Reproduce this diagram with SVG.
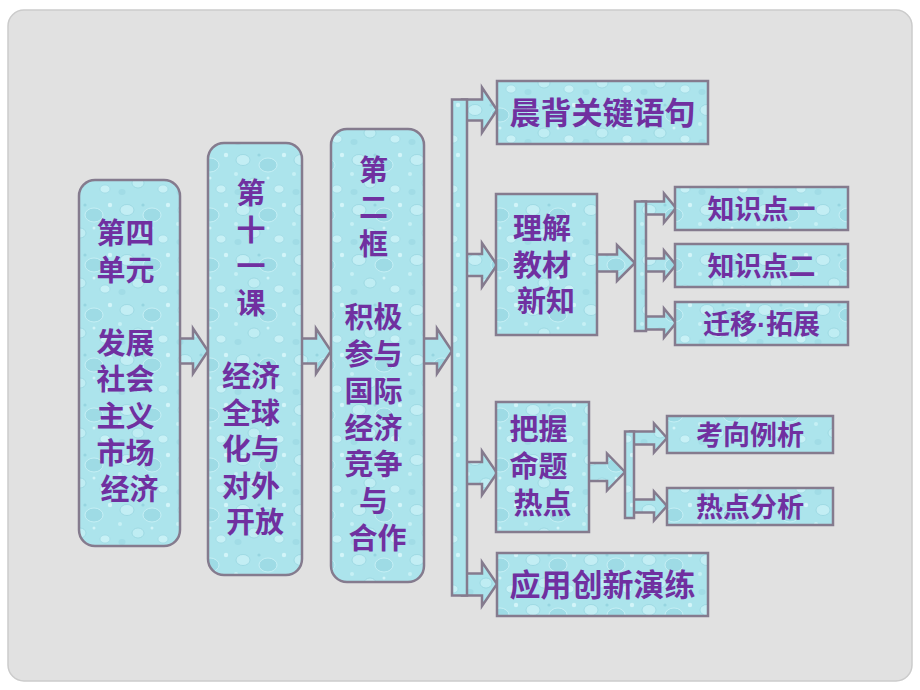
<svg xmlns="http://www.w3.org/2000/svg" width="920" height="690" viewBox="0 0 920 690">
  <defs>
    <pattern id="drops" width="58" height="50" patternUnits="userSpaceOnUse">
      <rect width="58" height="50" fill="#ace4ec"/>
      <ellipse cx="11" cy="10" rx="7" ry="5.5" fill="#c3eef4" stroke="#93d3de" stroke-width="0.7"/>
      <ellipse cx="36" cy="15" rx="9" ry="7" fill="#9edbe5" stroke="#cdf3f7" stroke-width="0.8"/>
      <ellipse cx="22" cy="33" rx="6" ry="5" fill="#bfedf3" stroke="#93d2dd" stroke-width="0.7"/>
      <ellipse cx="47" cy="39" rx="5" ry="4" fill="#c8f1f6" stroke="#98d5e0" stroke-width="0.6"/>
      <ellipse cx="6" cy="42" rx="3.5" ry="3" fill="#a1dce6"/>
      <circle cx="52" cy="5" r="2.2" fill="#d2f5f9"/>
      <circle cx="27" cy="5" r="1.6" fill="#96d5e0"/>
      <circle cx="36" cy="28" r="1.5" fill="#d0f4f8"/>
      <circle cx="4" cy="24" r="2" fill="#c6f0f5"/>
    </pattern>
  </defs>
  <style>
    .shape { fill: url(#drops); stroke: #857b8e; stroke-width: 2.5; }
    .conn { fill: url(#drops); stroke: #857b8e; stroke-width: 2.5; stroke-linejoin: miter; }
    .t { font-family: "Liberation Sans", "Noto Sans CJK SC", sans-serif; font-weight: bold; fill: #7030a0; text-anchor: middle; }
    .col { font-size: 29px; }
    .big { font-size: 31px; }
    .mid { font-size: 29px; }
    .sub { font-size: 27px; }
  </style>

  <rect x="0" y="0" width="920" height="690" fill="#ffffff"/>
  <rect x="8" y="10" width="904" height="671" rx="16" fill="#e1e1e1" stroke="#cbcbcb" stroke-width="1.5"/>

  <g id="connectors">
    <polygon class="conn" points="176,338.5 193,338.5 193,328.5 208,351 193,373.5 193,363.5 176,363.5"/>
    <polygon class="conn" points="298,338.5 316,338.5 316,328.5 331,351 316,373.5 316,363.5 298,363.5"/>
    <polygon class="conn" points="420,338.5 437,338.5 437,328.5 452,351 437,373.5 437,363.5 420,363.5"/>

    <polygon class="conn" points="462,99.5 482,99.5 482,87.5 497,110 482,132.5 482,120.5 462,120.5"/>
    <polygon class="conn" points="462,254 482,254 482,243 497,265 482,287 482,276 462,276"/>
    <polygon class="conn" points="462,462 482,462 482,451 497,473 482,495 482,484 462,484"/>
    <polygon class="conn" points="462,573.5 482,573.5 482,562 497,584 482,606 482,595.5 462,595.5"/>
    <rect class="conn" x="452" y="99.5" width="15" height="496"/>

    <polygon class="conn" points="594,254.5 617,254.5 617,245 635,263 617,281 617,271.5 594,271.5"/>
    <polygon class="conn" points="642,201.5 664,201.5 664,193.5 676,208 664,222.5 664,214.5 642,214.5"/>
    <polygon class="conn" points="642,258.5 664,258.5 664,250.5 676,265 664,279.5 664,271.5 642,271.5"/>
    <polygon class="conn" points="642,316.5 664,316.5 664,308.5 676,323 664,337.5 664,329.5 642,329.5"/>
    <rect class="conn" x="635" y="201.5" width="11" height="129.5"/>

    <polygon class="conn" points="586,463 607,463 607,453.5 625,472 607,490.5 607,481 586,481"/>
    <polygon class="conn" points="630,431.5 654,431.5 654,423.5 667,438 654,452.5 654,444.5 630,444.5"/>
    <polygon class="conn" points="630,499.5 654,499.5 654,491.5 667,506 654,520.5 654,512.5 630,512.5"/>
    <rect class="conn" x="625" y="431.5" width="9" height="86.5"/>
  </g>

  <g id="n-unit">
    <rect class="shape" x="79" y="180" width="101" height="366" rx="16"/>
    <text class="t col">
      <tspan x="129.5" y="244">第四</tspan>
      <tspan x="129.5" y="280.6">单元</tspan>
      <tspan x="129.5" y="353.8">发展</tspan>
      <tspan x="129.5" y="390.4">社会</tspan>
      <tspan x="129.5" y="427">主义</tspan>
      <tspan x="129.5" y="463.6">市场</tspan>
      <tspan x="129.5" y="500.2">经济</tspan>
    </text>
  </g>

  <g id="n-lesson">
    <rect class="shape" x="208" y="143" width="94" height="432" rx="16"/>
    <text class="t col">
      <tspan x="255" y="204">第</tspan>
      <tspan x="255" y="240.6">十</tspan>
      <tspan x="255" y="277.2">一</tspan>
      <tspan x="255" y="313.8">课</tspan>
      <tspan x="255" y="387">经济</tspan>
      <tspan x="255" y="423.6">全球</tspan>
      <tspan x="255" y="460.2">化与</tspan>
      <tspan x="255" y="496.8">对外</tspan>
      <tspan x="255" y="533.4">开放</tspan>
    </text>
  </g>

  <g id="n-frame">
    <rect class="shape" x="331" y="129" width="93" height="453" rx="16"/>
    <text class="t col">
      <tspan x="377.5" y="181">第</tspan>
      <tspan x="377.5" y="217.8">二</tspan>
      <tspan x="377.5" y="254.6">框</tspan>
      <tspan x="377.5" y="328.2">积极</tspan>
      <tspan x="377.5" y="365">参与</tspan>
      <tspan x="377.5" y="401.8">国际</tspan>
      <tspan x="377.5" y="438.6">经济</tspan>
      <tspan x="377.5" y="475.4">竞争</tspan>
      <tspan x="377.5" y="512.2">与</tspan>
      <tspan x="377.5" y="549">合作</tspan>
    </text>
  </g>

  <g id="n-recite">
    <rect class="shape" x="497" y="81" width="211" height="63"/>
    <text class="t big" x="602.5" y="124">晨背关键语句</text>
  </g>

  <g id="n-understand">
    <rect class="shape" x="496" y="194" width="101" height="141"/>
    <text class="t mid">
      <tspan x="546" y="238.5">理解</tspan>
      <tspan x="546" y="275.5">教材</tspan>
      <tspan x="546" y="312">新知</tspan>
    </text>
  </g>

  <g id="n-k1">
    <rect class="shape" x="675" y="187" width="173" height="43"/>
    <text class="t sub" x="761.5" y="218.5">知识点一</text>
  </g>
  <g id="n-k2">
    <rect class="shape" x="675" y="244" width="173" height="43"/>
    <text class="t sub" x="761.5" y="275.5">知识点二</text>
  </g>
  <g id="n-k3">
    <rect class="shape" x="675" y="302" width="173" height="43"/>
    <text class="t sub" x="761.5" y="333.5">迁移·拓展</text>
  </g>

  <g id="n-hot">
    <rect class="shape" x="496" y="402" width="93" height="130"/>
    <text class="t mid">
      <tspan x="542.5" y="440">把握</tspan>
      <tspan x="542.5" y="477">命题</tspan>
      <tspan x="542.5" y="514">热点</tspan>
    </text>
  </g>

  <g id="n-h1">
    <rect class="shape" x="667" y="416" width="166" height="37"/>
    <text class="t sub" x="750" y="444.5">考向例析</text>
  </g>
  <g id="n-h2">
    <rect class="shape" x="667" y="488" width="166" height="37"/>
    <text class="t sub" x="750" y="517">热点分析</text>
  </g>

  <g id="n-apply">
    <rect class="shape" x="497" y="553" width="211" height="63"/>
    <text class="t big" x="602.5" y="595.5">应用创新演练</text>
  </g>
</svg>
